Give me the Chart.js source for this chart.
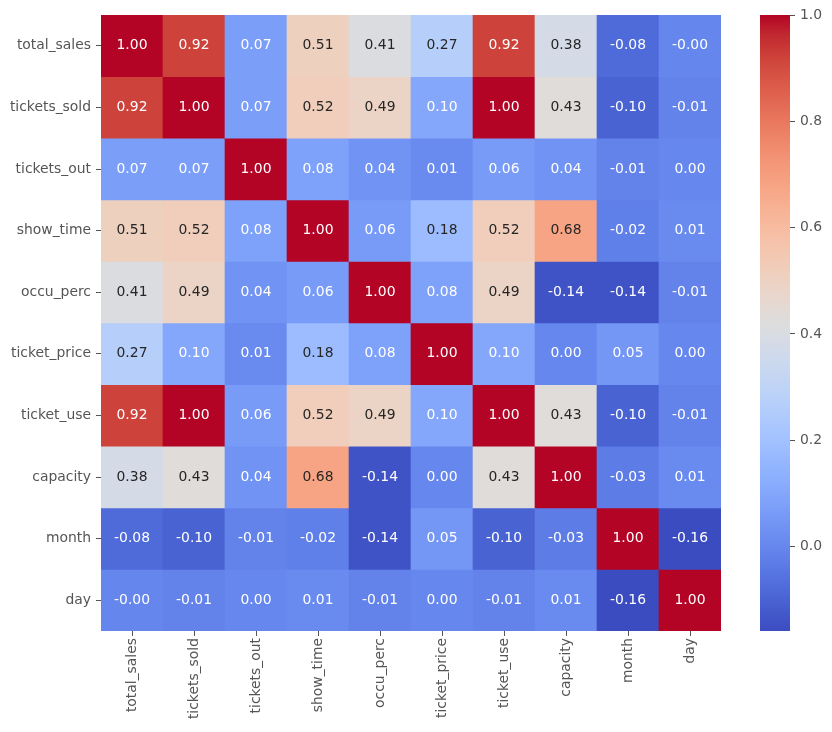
<!DOCTYPE html>
<html>
<head>
<meta charset="utf-8">
<script src="https://cdn.jsdelivr.net/npm/chart.js@4.4.1/dist/chart.umd.min.js"></script>
<style>
  html, body { margin: 0; padding: 0; background: #fff; }
  #wrap { position: relative; width: 832px; height: 732px; }
  #heatWrap { position: absolute; left: 0; top: 0; width: 740px; height: 732px; }
  #barWrap { position: absolute; left: 740px; top: 0; width: 92px; height: 732px; }
</style>
</head>
<body>
<div id="wrap">
  <div id="heatWrap"><canvas id="heat"></canvas></div>
  <div id="barWrap"><canvas id="cbar"></canvas></div>
</div>
<script>
// variables (filas y columnas)
const labels = ['total_sales', 'tickets_sold', 'tickets_out', 'show_time', 'occu_perc',
                'ticket_price', 'ticket_use', 'capacity', 'month', 'day'];

// matriz de correlación, fila por fila
const rowTotalSales  = [1.00, 0.92, 0.07, 0.51, 0.41, 0.27, 0.92, 0.38, -0.08, -0.003];
const rowTicketsSold = [0.92, 1.00, 0.07, 0.52, 0.49, 0.10, 1.00, 0.43, -0.10, -0.01];
const rowTicketsOut  = [0.07, 0.07, 1.00, 0.08, 0.04, 0.01, 0.06, 0.04, -0.01, 0.002];
const rowShowTime    = [0.51, 0.52, 0.08, 1.00, 0.06, 0.18, 0.52, 0.68, -0.02, 0.01];
const rowOccuPerc    = [0.41, 0.49, 0.04, 0.06, 1.00, 0.08, 0.49, -0.14, -0.14, -0.01];
const rowTicketPrice = [0.27, 0.10, 0.01, 0.18, 0.08, 1.00, 0.10, 0.002, 0.05, 0.002];
const rowTicketUse   = [0.92, 1.00, 0.06, 0.52, 0.49, 0.10, 1.00, 0.43, -0.10, -0.01];
const rowCapacity    = [0.38, 0.43, 0.04, 0.68, -0.14, 0.002, 0.43, 1.00, -0.03, 0.01];
const rowMonth       = [-0.08, -0.10, -0.01, -0.02, -0.14, 0.05, -0.10, -0.03, 1.00, -0.159];
const rowDay         = [-0.003, -0.01, 0.002, 0.01, -0.01, 0.002, -0.01, 0.01, -0.159, 1.00];
const matrix = [rowTotalSales, rowTicketsSold, rowTicketsOut, rowShowTime, rowOccuPerc,
                rowTicketPrice, rowTicketUse, rowCapacity, rowMonth, rowDay];

// ticks de la barra de color
const cbarTicks = [0.0, 0.2, 0.4, 0.6, 0.8, 1.0];

const vmin = Math.min(...matrix.flat());
const vmax = Math.max(...matrix.flat());

// coolwarm (33 puntos)
const coolwarm = [
  [59,76,192],[68,90,204],[77,104,215],[87,117,225],[98,130,234],[108,142,241],
  [119,154,247],[130,165,251],[141,176,254],[152,185,255],[163,194,255],[174,201,253],
  [184,208,249],[194,213,244],[204,217,238],[213,219,230],[221,221,221],[229,216,209],
  [236,211,197],[241,204,184],[245,196,172],[247,187,159],[247,177,147],[247,166,134],
  [244,154,123],[241,141,111],[236,127,99],[229,112,88],[222,96,77],[213,80,66],
  [203,62,56],[192,40,47],[180,4,38]
];

function cmap(t) {
  t = Math.max(0, Math.min(1, t));
  const p = t * (coolwarm.length - 1);
  const i = Math.min(Math.floor(p), coolwarm.length - 2);
  const f = p - i;
  return coolwarm[i].map((c, k) => Math.round(c + (coolwarm[i + 1][k] - c) * f));
}
const rgbStr = c => `rgb(${c[0]},${c[1]},${c[2]})`;

function luminance(c) {
  const lin = c.map(v => { v /= 255; return v <= 0.03928 ? v / 12.92 : Math.pow((v + 0.055) / 1.055, 2.4); });
  return 0.2126 * lin[0] + 0.7152 * lin[1] + 0.0722 * lin[2];
}

const norm = v => (v - vmin) / (vmax - vmin);

const font = { family: 'DejaVu Sans', size: 13.9 };
const tickColor = '#555555';

// una serie por fila, apiladas
const datasets = matrix.map((row, r) => ({
  label: labels[r],
  data: row.map(() => 1),
  values: row,
  backgroundColor: row.map(v => rgbStr(cmap(norm(v)))),
  borderWidth: 0,
  barPercentage: 1,
  categoryPercentage: 1
}));

const annotPlugin = {
  id: 'annot',
  afterDatasetsDraw(chart) {
    const ctx = chart.ctx;
    ctx.save();
    ctx.font = `${font.size}px ${font.family}`;
    ctx.textAlign = 'center';
    ctx.textBaseline = 'middle';
    chart.data.datasets.forEach((ds, r) => {
      chart.getDatasetMeta(r).data.forEach((el, c) => {
        const v = ds.values[c];
        const col = cmap(norm(v));
        ctx.fillStyle = luminance(col) > 0.408 ? '#262626' : '#ffffff';
        ctx.fillText(v.toFixed(2), el.x, (el.y + el.base) / 2);
      });
    });
    ctx.restore();
  }
};

new Chart(document.getElementById('heat'), {
  type: 'bar',
  data: { labels: labels, datasets: datasets },
  options: {
    responsive: true,
    maintainAspectRatio: false,
    animation: false,
    layout: { padding: { top: 15, right: 19, left: 0, bottom: 0 } },
    plugins: { legend: { display: false }, tooltip: { enabled: false } },
    scales: {
      x: {
        stacked: true,
        grid: { display: true, drawOnChartArea: false, offset: false, tickLength: 5, tickWidth: 1, color: tickColor },
        border: { display: false },
        ticks: { color: tickColor, font: font, minRotation: 90, maxRotation: 90, autoSkip: false, padding: 2 },
        afterFit: s => { s.height = 101; }
      },
      y: {
        stacked: true,
        reverse: true,
        min: 0,
        max: labels.length,
        grid: { display: true, drawOnChartArea: false, tickLength: 5, tickWidth: 1, color: tickColor },
        border: { display: false },
        afterBuildTicks: s => { s.ticks = labels.map((_, i) => ({ value: i + 0.5 })); },
        ticks: { color: tickColor, font: font, autoSkip: false, padding: 5, callback: (v, i) => labels[i] },
        afterFit: s => { s.width = 101; }
      }
    }
  },
  plugins: [annotPlugin]
});

// barra de color
new Chart(document.getElementById('cbar'), {
  type: 'bar',
  data: {
    labels: [''],
    datasets: [{
      data: [[vmin, vmax]],
      borderWidth: 0,
      barPercentage: 1,
      categoryPercentage: 1,
      backgroundColor: (c) => {
        const area = c.chart.chartArea;
        if (!area) return '#ccc';
        const g = c.chart.ctx.createLinearGradient(0, area.bottom, 0, area.top);
        coolwarm.forEach((col, i) => g.addColorStop(i / (coolwarm.length - 1), rgbStr(col)));
        return g;
      }
    }]
  },
  options: {
    responsive: true,
    maintainAspectRatio: false,
    animation: false,
    layout: { padding: { top: 15, left: 20, right: 0, bottom: 0 } },
    plugins: { legend: { display: false }, tooltip: { enabled: false } },
    scales: {
      x: { display: false },
      y: {
        position: 'right',
        min: vmin,
        max: vmax,
        grid: { display: true, drawOnChartArea: false, tickLength: 5, tickWidth: 1, color: tickColor },
        border: { display: false },
        afterBuildTicks: s => { s.ticks = cbarTicks.map(v => ({ value: v })); },
        ticks: { color: tickColor, font: font, padding: 5, callback: v => v.toFixed(1) },
        afterFit: s => { s.width = 42; }
      }
    }
  },
  plugins: [{
    id: 'bottomPad',
    beforeLayout(chart) { chart.options.layout.padding.bottom = 101; }
  }]
});
</script>
</body>
</html>
